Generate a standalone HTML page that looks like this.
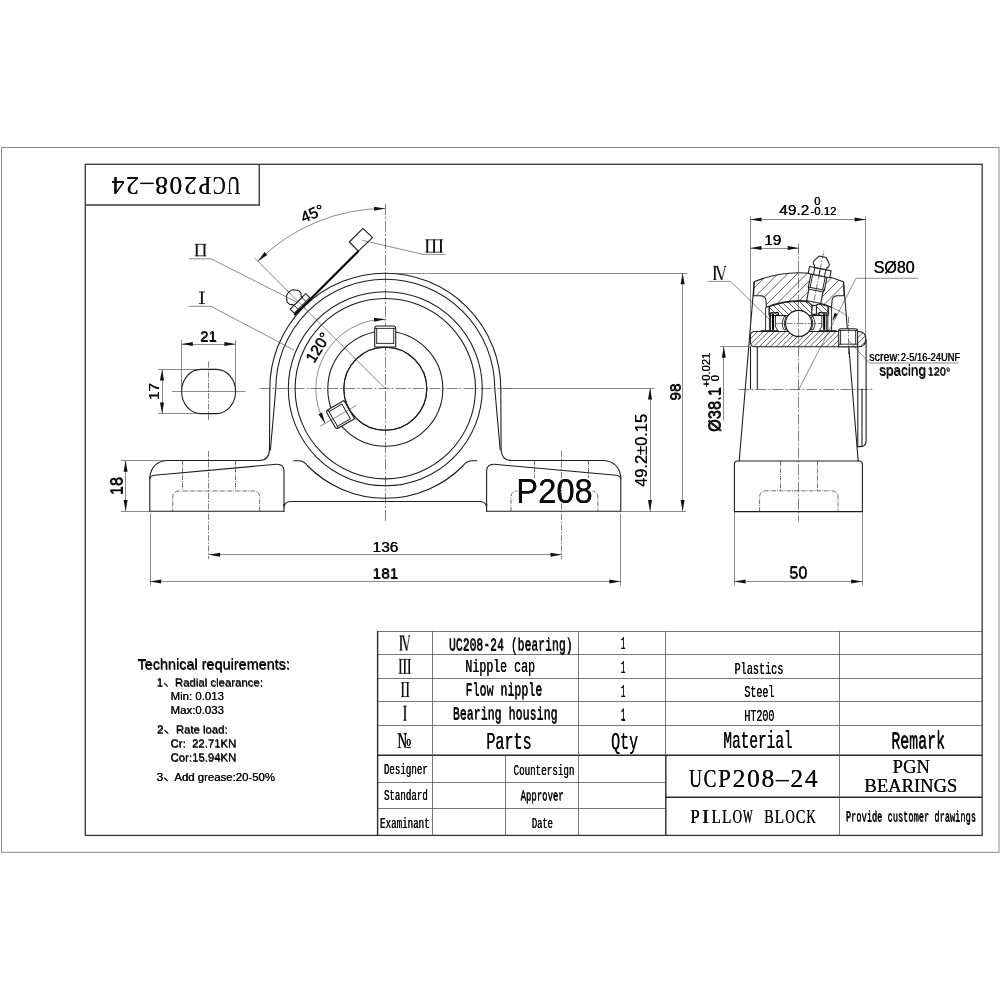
<!DOCTYPE html>
<html><head><meta charset="utf-8"><title>UCP208-24</title>
<style>
html,body{margin:0;padding:0;background:#fff;}
body{width:1000px;height:1000px;overflow:hidden;font-family:"Liberation Sans",sans-serif;}
svg{display:block;position:absolute;left:0;top:0;opacity:0.999;will-change:transform;}
.k{fill:none;stroke:#1c1c1c;stroke-width:1.08;stroke-linecap:round;stroke-linejoin:round;}
.kw{fill:#fff;stroke:#1c1c1c;stroke-width:1.08;stroke-linejoin:round;}
.kb{fill:none;stroke:#000;stroke-width:2.1;stroke-linecap:butt;}
.m{fill:none;stroke:#1a1a1a;stroke-width:0.9;stroke-linecap:round;stroke-linejoin:round;}
.t{fill:none;stroke:#333;stroke-width:0.57;}
.h{fill:none;stroke:#222;stroke-width:0.72;}
.c{fill:none;stroke:#333;stroke-width:0.62;stroke-dasharray:11 2 2 2;}
.cs{fill:none;stroke:#333;stroke-width:0.62;stroke-dasharray:6 1.5 1.5 1.5;}
.d{fill:none;stroke:#333;stroke-width:0.72;stroke-dasharray:4.4 1.1 0.9 1.1;}
.af{fill:#111;stroke:none;}
.fr1{fill:none;stroke:#8a8a8a;stroke-width:1;}
.fr2{fill:none;stroke:#3c3c3c;stroke-width:1.35;}
.g1{fill:none;stroke:#555;stroke-width:0.8;}
.g2{fill:none;stroke:#2a2a2a;stroke-width:1.4;}
text{fill:#0a0a0a;stroke:none;}
.fs{font-family:"Liberation Sans",sans-serif;}
.fr{font-family:"Liberation Serif",serif;}
.fm{font-family:"Liberation Mono",monospace;}

</style></head><body>
<svg width="1000" height="1000" viewBox="0 0 1000 1000">
<rect x="0" y="0" width="1000" height="1000" fill="#fff"/>

<rect class="fr1" x="1.5" y="147.5" width="997.5" height="704.8"/>
<rect class="fr2" x="85.3" y="164.3" width="896.9" height="671.1"/>
<path class="fr2" d="M85.3,205 H259.3 V164.3"/>
<g transform="rotate(180 175.9 185)">
<text class="fr" transform="translate(118.03 193.33) scale(0.693 1)" x="0" y="0" font-size="25.6" text-anchor="middle">U</text>
<text class="fr" transform="translate(118.17 193.47) scale(0.693 1)" x="0" y="0" font-size="25.6" text-anchor="middle">U</text>
<text class="fr" transform="translate(132.48 193.33) scale(0.750 1)" x="0" y="0" font-size="25.6" text-anchor="middle">C</text>
<text class="fr" transform="translate(132.62 193.47) scale(0.750 1)" x="0" y="0" font-size="25.6" text-anchor="middle">C</text>
<text class="fr" transform="translate(146.93 193.33) scale(0.899 1)" x="0" y="0" font-size="25.6" text-anchor="middle">P</text>
<text class="fr" transform="translate(147.07 193.47) scale(0.899 1)" x="0" y="0" font-size="25.6" text-anchor="middle">P</text>
<text class="fr" transform="translate(161.38 193.33) scale(1.000 1)" x="0" y="0" font-size="25.6" text-anchor="middle">2</text>
<text class="fr" transform="translate(161.52 193.47) scale(1.000 1)" x="0" y="0" font-size="25.6" text-anchor="middle">2</text>
<text class="fr" transform="translate(175.83 193.33) scale(1.000 1)" x="0" y="0" font-size="25.6" text-anchor="middle">0</text>
<text class="fr" transform="translate(175.97 193.47) scale(1.000 1)" x="0" y="0" font-size="25.6" text-anchor="middle">0</text>
<text class="fr" transform="translate(190.28 193.33) scale(1.000 1)" x="0" y="0" font-size="25.6" text-anchor="middle">8</text>
<text class="fr" transform="translate(190.42 193.47) scale(1.000 1)" x="0" y="0" font-size="25.6" text-anchor="middle">8</text>
<text class="fr" transform="translate(204.73 193.33) scale(1.000 1)" x="0" y="0" font-size="25.6" text-anchor="middle">–</text>
<text class="fr" transform="translate(204.87 193.47) scale(1.000 1)" x="0" y="0" font-size="25.6" text-anchor="middle">–</text>
<text class="fr" transform="translate(219.18 193.33) scale(1.000 1)" x="0" y="0" font-size="25.6" text-anchor="middle">2</text>
<text class="fr" transform="translate(219.32 193.47) scale(1.000 1)" x="0" y="0" font-size="25.6" text-anchor="middle">2</text>
<text class="fr" transform="translate(233.63 193.33) scale(1.000 1)" x="0" y="0" font-size="25.6" text-anchor="middle">4</text>
<text class="fr" transform="translate(233.77 193.47) scale(1.000 1)" x="0" y="0" font-size="25.6" text-anchor="middle">4</text>
</g>
<g id="front">
<line class="c" x1="259.50" y1="388.50" x2="511.50" y2="388.50"/>
<line class="c" x1="385.50" y1="203.80" x2="385.50" y2="521.00"/>
<circle class="k" cx="385.30" cy="388.70" r="41.50"/>
<circle class="k" cx="385.30" cy="388.70" r="57.50"/>
<circle class="k" cx="385.30" cy="388.70" r="90.20"/>
<circle class="k" cx="385.30" cy="388.70" r="97.00"/>
<path class="k" d="M385.30,273.20 A115.5,115.5 0 0 0 269.80,388.70 L269.50,449.5 Q269.00,460.50 259.30,460.50 L166.80,460.50 Q152.30,461.50 149.80,476.5 L149.80,511.30 L284.00,511.30" />
<path class="k" d="M385.30,279.20 A109.5,109.5 0 0 0 275.80,388.70 L270.40,450" />
<path class="k" d="M149.80,478.8 Q150.10,476 154.30,475.3 L276.30,464.3 Q283.70,464 284.00,471 L284.00,506.80 Q285.00,501.70 290.50,501.50" />
<line class="k" x1="284.00" y1="504.30" x2="284.00" y2="511.30"/>
<path class="k" d="M293.80,460.7 L299.30,460.7 Q304.30,461 307.74,466" />
<line class="d" x1="235.50" y1="460.50" x2="235.50" y2="490.50"/>
<line class="d" x1="182.50" y1="460.50" x2="182.50" y2="490.50"/>
<path class="d" d="M259.60,511.30 L259.60,497.5 Q259.60,491 253.10,491 L179.20,491 Q172.70,491 172.70,497.5 L172.70,511.30" />
<line class="cs" x1="208.50" y1="451.00" x2="208.50" y2="559.00"/>
<path class="k" d="M385.30,273.20 A115.5,115.5 0 0 1 500.80,388.70 L501.10,449.5 Q501.60,460.50 511.30,460.50 L603.80,460.50 Q618.30,461.50 620.80,476.5 L620.80,511.30 L486.60,511.30" />
<path class="k" d="M385.30,279.20 A109.5,109.5 0 0 1 494.80,388.70 L500.20,450" />
<path class="k" d="M620.80,478.8 Q620.50,476 616.30,475.3 L494.30,464.3 Q486.90,464 486.60,471 L486.60,506.80 Q485.60,501.70 480.10,501.50" />
<line class="k" x1="486.60" y1="504.30" x2="486.60" y2="511.30"/>
<path class="k" d="M476.80,460.7 L471.30,460.7 Q466.30,461 462.86,466" />
<line class="d" x1="534.50" y1="460.50" x2="534.50" y2="490.50"/>
<line class="d" x1="588.50" y1="460.50" x2="588.50" y2="490.50"/>
<path class="d" d="M511.00,511.30 L511.00,497.5 Q511.00,491 517.50,491 L591.40,491 Q597.90,491 597.90,497.5 L597.90,511.30" />
<rect x="517.5" y="478" width="75" height="27.5" fill="#fff"/>
<line class="cs" x1="561.50" y1="451.00" x2="561.50" y2="559.00"/>
<path class="k" d="M290.50,501.5 L480.10,501.5" />
<path class="k" d="M307.74,466 A109.5,109.5 0 0 0 462.86,466" />
<path class="kw" d="M374.7,347.0 L374.7,328.5 Q374.7,326.0 377.2,326.0 L393.2,326.0 Q395.7,326.0 395.7,328.5 L395.7,347.0 Z"/>
<path class="m" d="M376.7,328.4 V343.4 M393.7,328.4 V343.4 M375.2,328.4 H395.2 M376.7,343.4 H393.7"/>
<g transform="rotate(-120 385.3 388.7)">
<path class="kw" d="M374.7,347.0 L374.7,328.5 Q374.7,326.0 377.2,326.0 L393.2,326.0 Q395.7,326.0 395.7,328.5 L395.7,347.0 Z"/>
<path class="m" d="M376.7,328.4 V343.4 M393.7,328.4 V343.4 M375.2,328.4 H395.2 M376.7,343.4 H393.7"/>
</g>
<circle class="k" cx="385.30" cy="388.70" r="41.50"/>
<line class="t" x1="356.72" y1="405.20" x2="320.35" y2="426.20"/>
<path class="t" d="M385.30,319.20 A69.5,69.5 0 0 0 325.11,423.45" />
<path class="af" d="M385.30,319.20 L374.22,321.78 L374.01,317.79 Z"/>
<path class="af" d="M325.11,423.45 L318.40,414.26 L322.00,412.51 Z"/>
<g transform="rotate(-58.50 322.55 350.24)">
<text class="fs" x="322.34" y="350.03" font-size="15.5" text-anchor="middle" dominant-baseline="alphabetic">120°</text>
<text class="fs" x="322.76" y="350.45" font-size="15.5" text-anchor="middle" dominant-baseline="alphabetic">120°</text>
</g>
<line class="t" x1="385.30" y1="388.70" x2="254.49" y2="257.89"/>
<path class="t" d="M385.30,208.40 A180.3,180.3 0 0 0 257.81,261.21" />
<path class="af" d="M385.30,208.40 L374.16,210.69 L374.05,206.69 Z"/>
<path class="af" d="M257.81,261.21 L264.56,252.05 L267.31,254.95 Z"/>
<g transform="rotate(-22.60 314.40 218.37)">
<text class="fs" x="314.19" y="218.16" font-size="15.5" text-anchor="middle" >45°</text>
<text class="fs" x="314.61" y="218.58" font-size="15.5" text-anchor="middle" >45°</text>
</g>
<g transform="translate(385.3 388.7) rotate(-45)">
<rect class="kw" x="-11" y="-123.5" width="22" height="5.8"/>
<path class="m" d="M-5.5,-123.5 V-117.7 M5.5,-123.5 V-117.7"/>
<path class="kw" d="M-5.9,-123.5 L-6.1,-125.2 L-8,-127.2 L-8.2,-130.6 L-4.6,-135.3 Q-2.5,-136.5 0,-136.5 Q2.5,-136.5 4.6,-135.3 L8.2,-130.6 L8,-127.2 L6.1,-125.2 L5.9,-123.5 Z"/>
</g>
<line class="t" x1="306.10" y1="309.50" x2="286.31" y2="289.71"/>
<path class="kw" d="M362.9,228.4 L372.5,237.7 L358.4,251.1 L349.3,242 Z"/>
<path class="kb" d="M358.6,250.9 L309.5,300"/>
<path class="kb" d="M310,299.5 L294.3,315.2" style="stroke-width:1.7"/>
<path d="M196.75,243.90 V256.20 M204.45,243.90 V256.20" fill="none" stroke="#111" stroke-width="1.9"/>
<path d="M194.90,244.30 H206.30 M194.90,255.80 H206.30" fill="none" stroke="#111" stroke-width="0.8"/>
<path class="t" d="M188.8,258.8 H211 L297.5,302.5" />
<path d="M201.90,291.60 V304.00" fill="none" stroke="#111" stroke-width="1.9"/>
<path d="M198.80,292.00 H205.00 M198.80,303.60 H205.00" fill="none" stroke="#111" stroke-width="0.8"/>
<path class="t" d="M188.8,306.3 H211 L293.8,350" />
<path d="M427.25,239.40 V252.60 M434.10,239.40 V252.60 M440.95,239.40 V252.60" fill="none" stroke="#111" stroke-width="1.9"/>
<path d="M425.40,239.80 H442.80 M425.40,252.20 H442.80" fill="none" stroke="#111" stroke-width="0.8"/>
<path class="t" d="M445.6,254.4 H423 L362.4,240.3" />
<path class="k" d="M200.8,369.4 H216.4 A19.2,22.1 0 0 1 216.4,413.6 H200.8 A19.2,22.1 0 0 1 200.8,369.4 Z" />
<line class="t" x1="172.00" y1="391.50" x2="245.60" y2="391.50"/>
<line class="cs" x1="208.50" y1="361.60" x2="208.50" y2="421.00"/>
<line class="t" x1="181.50" y1="340.00" x2="181.50" y2="391.00"/>
<line class="t" x1="235.50" y1="340.00" x2="235.50" y2="391.00"/>
<line class="t" x1="181.60" y1="344.50" x2="235.60" y2="344.50"/>
<path class="af" d="M181.60,344.00 L192.80,342.00 L192.80,346.00 Z"/>
<path class="af" d="M235.60,344.00 L224.40,346.00 L224.40,342.00 Z"/>
<text class="fs" x="208.39" y="341.09" font-size="15.2" text-anchor="middle" >21</text>
<text class="fs" x="208.81" y="341.51" font-size="15.2" text-anchor="middle" >21</text>
<line class="t" x1="158.00" y1="369.50" x2="208.00" y2="369.50"/>
<line class="t" x1="158.00" y1="413.50" x2="208.00" y2="413.50"/>
<line class="t" x1="162.50" y1="369.40" x2="162.50" y2="413.60"/>
<path class="af" d="M162.00,369.40 L164.00,380.60 L160.00,380.60 Z"/>
<path class="af" d="M162.00,413.60 L160.00,402.40 L164.00,402.40 Z"/>
<g transform="rotate(-90.00 158.80 391.50)">
<text class="fs" x="158.59" y="391.29" font-size="15.2" text-anchor="middle" >17</text>
<text class="fs" x="159.01" y="391.71" font-size="15.2" text-anchor="middle" >17</text>
</g>
<line class="t" x1="121.00" y1="460.50" x2="166.00" y2="460.50"/>
<line class="t" x1="121.00" y1="511.50" x2="150.00" y2="511.50"/>
<line class="t" x1="125.50" y1="460.50" x2="125.50" y2="511.30"/>
<path class="af" d="M125.60,460.50 L127.60,471.70 L123.60,471.70 Z"/>
<path class="af" d="M125.60,511.30 L123.60,500.10 L127.60,500.10 Z"/>
<g transform="rotate(-90.00 122.30 486.00)">
<text class="fs" x="122.09" y="485.79" font-size="16.4" text-anchor="middle" >18</text>
<text class="fs" x="122.51" y="486.21" font-size="16.4" text-anchor="middle" >18</text>
</g>
<line class="t" x1="208.90" y1="554.50" x2="561.70" y2="554.50"/>
<path class="af" d="M208.90,554.80 L220.10,552.80 L220.10,556.80 Z"/>
<path class="af" d="M561.70,554.80 L550.50,556.80 L550.50,552.80 Z"/>
<text class="fs" x="385.29" y="551.59" font-size="15.5" text-anchor="middle" >136</text>
<text class="fs" x="385.71" y="552.01" font-size="15.5" text-anchor="middle" >136</text>
<line class="t" x1="150.50" y1="513.30" x2="150.50" y2="585.50"/>
<line class="t" x1="620.50" y1="513.30" x2="620.50" y2="585.50"/>
<line class="t" x1="150.00" y1="581.50" x2="620.60" y2="581.50"/>
<path class="af" d="M150.00,581.60 L161.20,579.60 L161.20,583.60 Z"/>
<path class="af" d="M620.60,581.60 L609.40,583.60 L609.40,579.60 Z"/>
<text class="fs" x="385.29" y="578.39" font-size="15.5" text-anchor="middle" >181</text>
<text class="fs" x="385.71" y="578.81" font-size="15.5" text-anchor="middle" >181</text>
<line class="t" x1="385.30" y1="273.50" x2="687.00" y2="273.50"/>
<line class="t" x1="505.00" y1="388.50" x2="654.50" y2="388.50"/>
<line class="t" x1="620.60" y1="511.50" x2="686.00" y2="511.50"/>
<line class="t" x1="650.50" y1="388.30" x2="650.50" y2="511.30"/>
<path class="af" d="M650.00,388.30 L652.00,399.50 L648.00,399.50 Z"/>
<path class="af" d="M650.00,511.30 L648.00,500.10 L652.00,500.10 Z"/>
<g transform="rotate(-90.00 647.00 450.40)">
<text class="fs" x="646.79" y="450.19" font-size="16.4" text-anchor="middle" textLength="73.00" lengthAdjust="spacingAndGlyphs" >49.2±0.15</text>
<text class="fs" x="647.21" y="450.61" font-size="16.4" text-anchor="middle" textLength="73.00" lengthAdjust="spacingAndGlyphs" >49.2±0.15</text>
</g>
<line class="t" x1="682.50" y1="273.00" x2="682.50" y2="511.30"/>
<path class="af" d="M682.60,273.00 L684.60,284.20 L680.60,284.20 Z"/>
<path class="af" d="M682.60,511.30 L680.60,500.10 L684.60,500.10 Z"/>
<g transform="rotate(-90.00 680.30 392.00)">
<text class="fs" x="680.09" y="391.79" font-size="15.5" text-anchor="middle" >98</text>
<text class="fs" x="680.51" y="392.21" font-size="15.5" text-anchor="middle" >98</text>
</g>
<text class="fs" x="554.43" y="503.33" font-size="34.6" text-anchor="middle" textLength="76.60" lengthAdjust="spacingAndGlyphs" >P208</text>
<text class="fs" x="554.57" y="503.47" font-size="34.6" text-anchor="middle" textLength="76.60" lengthAdjust="spacingAndGlyphs" >P208</text>
</g>
<g id="table">
<line class="g1" x1="377.60" y1="631.50" x2="982.20" y2="631.50"/>
<line class="g1" x1="377.60" y1="654.50" x2="982.20" y2="654.50"/>
<line class="g1" x1="377.60" y1="678.50" x2="982.20" y2="678.50"/>
<line class="g1" x1="377.60" y1="701.50" x2="982.20" y2="701.50"/>
<line class="g1" x1="377.60" y1="725.50" x2="982.20" y2="725.50"/>
<line class="g2" x1="377.60" y1="755.30" x2="982.20" y2="755.30"/>
<line class="g1" x1="377.60" y1="782.50" x2="665.80" y2="782.50"/>
<line class="g1" x1="377.60" y1="808.50" x2="665.80" y2="808.50"/>
<line class="g2" x1="665.80" y1="797.20" x2="982.20" y2="797.20"/>
<line class="g2" x1="377.60" y1="631.00" x2="377.60" y2="835.40"/>
<line class="g1" x1="432.50" y1="631.00" x2="432.50" y2="835.40"/>
<line class="g1" x1="578.50" y1="631.00" x2="578.50" y2="835.40"/>
<line class="g1" x1="505.50" y1="755.30" x2="505.50" y2="835.40"/>
<line class="g1" x1="665.50" y1="631.00" x2="665.50" y2="755.30"/>
<line class="g2" x1="665.80" y1="755.30" x2="665.80" y2="835.40"/>
<line class="g1" x1="839.50" y1="631.00" x2="839.50" y2="755.30"/>
<line class="g1" x1="839.50" y1="755.30" x2="839.50" y2="835.40"/>
<path d="M401.00,635.60 V650.40 M403.00,635.60 L406.80,650.40" fill="none" stroke="#111" stroke-width="1.6"/>
<path d="M406.80,650.40 L409.40,635.60 M399.40,635.98 H404.60 M407.80,635.98 H410.40 M399.40,650.02 H402.60" fill="none" stroke="#111" stroke-width="0.75"/>
<path d="M400.40,659.00 V673.80 M404.80,659.00 V673.80 M409.20,659.00 V673.80" fill="none" stroke="#111" stroke-width="1.6"/>
<path d="M398.70,659.38 H410.90 M398.70,673.42 H410.90" fill="none" stroke="#111" stroke-width="0.75"/>
<path d="M402.70,682.20 V697.00 M407.70,682.20 V697.00" fill="none" stroke="#111" stroke-width="1.6"/>
<path d="M401.00,682.58 H409.40 M401.00,696.62 H409.40" fill="none" stroke="#111" stroke-width="0.75"/>
<path d="M405.00,705.80 V720.60" fill="none" stroke="#111" stroke-width="1.6"/>
<path d="M403.00,706.17 H407.00 M403.00,720.23 H407.00" fill="none" stroke="#111" stroke-width="0.75"/>
<text class="fr" x="404.12" y="747.62" font-size="22.5" text-anchor="middle" textLength="14.00" lengthAdjust="spacingAndGlyphs" >№</text>
<text class="fr" x="404.28" y="747.78" font-size="22.5" text-anchor="middle" textLength="14.00" lengthAdjust="spacingAndGlyphs" >№</text>
<text class="fm" x="510.65" y="650.45" font-size="19" text-anchor="middle" textLength="123.60" lengthAdjust="spacingAndGlyphs" >UC208-24 (bearing)</text>
<text class="fm" x="510.95" y="650.75" font-size="19" text-anchor="middle" textLength="123.60" lengthAdjust="spacingAndGlyphs" >UC208-24 (bearing)</text>
<text class="fm" x="500.05" y="671.55" font-size="19" text-anchor="middle" textLength="69.60" lengthAdjust="spacingAndGlyphs" >Nipple cap</text>
<text class="fm" x="500.35" y="671.85" font-size="19" text-anchor="middle" textLength="69.60" lengthAdjust="spacingAndGlyphs" >Nipple cap</text>
<text class="fm" x="503.85" y="695.25" font-size="19" text-anchor="middle" textLength="76.80" lengthAdjust="spacingAndGlyphs" >Flow nipple</text>
<text class="fm" x="504.15" y="695.55" font-size="19" text-anchor="middle" textLength="76.80" lengthAdjust="spacingAndGlyphs" >Flow nipple</text>
<text class="fm" x="505.05" y="719.25" font-size="19" text-anchor="middle" textLength="104.80" lengthAdjust="spacingAndGlyphs" >Bearing housing</text>
<text class="fm" x="505.35" y="719.55" font-size="19" text-anchor="middle" textLength="104.80" lengthAdjust="spacingAndGlyphs" >Bearing housing</text>
<text class="fm" x="508.85" y="748.55" font-size="23" text-anchor="middle" textLength="45.20" lengthAdjust="spacingAndGlyphs" >Parts</text>
<text class="fm" x="509.15" y="748.85" font-size="23" text-anchor="middle" textLength="45.20" lengthAdjust="spacingAndGlyphs" >Parts</text>
<text class="fm" x="623.05" y="649.15" font-size="19" text-anchor="middle" textLength="4.60" lengthAdjust="spacingAndGlyphs" >1</text>
<text class="fm" x="623.35" y="649.45" font-size="19" text-anchor="middle" textLength="4.60" lengthAdjust="spacingAndGlyphs" >1</text>
<text class="fm" x="623.05" y="672.75" font-size="19" text-anchor="middle" textLength="4.60" lengthAdjust="spacingAndGlyphs" >1</text>
<text class="fm" x="623.35" y="673.05" font-size="19" text-anchor="middle" textLength="4.60" lengthAdjust="spacingAndGlyphs" >1</text>
<text class="fm" x="623.05" y="696.55" font-size="19" text-anchor="middle" textLength="4.60" lengthAdjust="spacingAndGlyphs" >1</text>
<text class="fm" x="623.35" y="696.85" font-size="19" text-anchor="middle" textLength="4.60" lengthAdjust="spacingAndGlyphs" >1</text>
<text class="fm" x="623.05" y="720.35" font-size="19" text-anchor="middle" textLength="4.60" lengthAdjust="spacingAndGlyphs" >1</text>
<text class="fm" x="623.35" y="720.65" font-size="19" text-anchor="middle" textLength="4.60" lengthAdjust="spacingAndGlyphs" >1</text>
<text class="fm" x="624.55" y="748.55" font-size="23" text-anchor="middle" textLength="27.00" lengthAdjust="spacingAndGlyphs" >Qty</text>
<text class="fm" x="624.85" y="748.85" font-size="23" text-anchor="middle" textLength="27.00" lengthAdjust="spacingAndGlyphs" >Qty</text>
<text class="fm" x="758.85" y="673.65" font-size="17" text-anchor="middle" textLength="48.80" lengthAdjust="spacingAndGlyphs" >Plastics</text>
<text class="fm" x="759.15" y="673.95" font-size="17" text-anchor="middle" textLength="48.80" lengthAdjust="spacingAndGlyphs" >Plastics</text>
<text class="fm" x="759.25" y="697.15" font-size="17" text-anchor="middle" textLength="30.20" lengthAdjust="spacingAndGlyphs" >Steel</text>
<text class="fm" x="759.55" y="697.45" font-size="17" text-anchor="middle" textLength="30.20" lengthAdjust="spacingAndGlyphs" >Steel</text>
<text class="fm" x="759.25" y="720.85" font-size="17" text-anchor="middle" textLength="30.20" lengthAdjust="spacingAndGlyphs" >HT200</text>
<text class="fm" x="759.55" y="721.15" font-size="17" text-anchor="middle" textLength="30.20" lengthAdjust="spacingAndGlyphs" >HT200</text>
<text class="fm" x="757.85" y="748.15" font-size="24" text-anchor="middle" textLength="69.20" lengthAdjust="spacingAndGlyphs" >Material</text>
<text class="fm" x="758.15" y="748.45" font-size="24" text-anchor="middle" textLength="69.20" lengthAdjust="spacingAndGlyphs" >Material</text>
<text class="fm" x="918.05" y="748.45" font-size="24" text-anchor="middle" textLength="53.80" lengthAdjust="spacingAndGlyphs" >Remark</text>
<text class="fm" x="918.35" y="748.75" font-size="24" text-anchor="middle" textLength="53.80" lengthAdjust="spacingAndGlyphs" >Remark</text>
<text class="fm" x="405.75" y="774.05" font-size="14.5" text-anchor="middle" textLength="43.80" lengthAdjust="spacingAndGlyphs" >Designer</text>
<text class="fm" x="406.05" y="774.35" font-size="14.5" text-anchor="middle" textLength="43.80" lengthAdjust="spacingAndGlyphs" >Designer</text>
<text class="fm" x="405.75" y="800.15" font-size="14.5" text-anchor="middle" textLength="43.80" lengthAdjust="spacingAndGlyphs" >Standard</text>
<text class="fm" x="406.05" y="800.45" font-size="14.5" text-anchor="middle" textLength="43.80" lengthAdjust="spacingAndGlyphs" >Standard</text>
<text class="fm" x="404.75" y="827.85" font-size="14.5" text-anchor="middle" textLength="49.80" lengthAdjust="spacingAndGlyphs" >Examinant</text>
<text class="fm" x="405.05" y="828.15" font-size="14.5" text-anchor="middle" textLength="49.80" lengthAdjust="spacingAndGlyphs" >Examinant</text>
<text class="fm" x="543.85" y="774.65" font-size="14.5" text-anchor="middle" textLength="60.80" lengthAdjust="spacingAndGlyphs" >Countersign</text>
<text class="fm" x="544.15" y="774.95" font-size="14.5" text-anchor="middle" textLength="60.80" lengthAdjust="spacingAndGlyphs" >Countersign</text>
<text class="fm" x="542.05" y="800.45" font-size="14.5" text-anchor="middle" textLength="43.20" lengthAdjust="spacingAndGlyphs" >Approver</text>
<text class="fm" x="542.35" y="800.75" font-size="14.5" text-anchor="middle" textLength="43.20" lengthAdjust="spacingAndGlyphs" >Approver</text>
<text class="fm" x="542.25" y="828.15" font-size="14.5" text-anchor="middle" textLength="21.20" lengthAdjust="spacingAndGlyphs" >Date</text>
<text class="fm" x="542.55" y="828.45" font-size="14.5" text-anchor="middle" textLength="21.20" lengthAdjust="spacingAndGlyphs" >Date</text>
<text class="fr" transform="translate(695.53 787.13) scale(0.693 1)" x="0" y="0" font-size="25.6" text-anchor="middle">U</text>
<text class="fr" transform="translate(695.67 787.27) scale(0.693 1)" x="0" y="0" font-size="25.6" text-anchor="middle">U</text>
<text class="fr" transform="translate(709.98 787.13) scale(0.750 1)" x="0" y="0" font-size="25.6" text-anchor="middle">C</text>
<text class="fr" transform="translate(710.12 787.27) scale(0.750 1)" x="0" y="0" font-size="25.6" text-anchor="middle">C</text>
<text class="fr" transform="translate(724.43 787.13) scale(0.899 1)" x="0" y="0" font-size="25.6" text-anchor="middle">P</text>
<text class="fr" transform="translate(724.57 787.27) scale(0.899 1)" x="0" y="0" font-size="25.6" text-anchor="middle">P</text>
<text class="fr" transform="translate(738.88 787.13) scale(1.000 1)" x="0" y="0" font-size="25.6" text-anchor="middle">2</text>
<text class="fr" transform="translate(739.02 787.27) scale(1.000 1)" x="0" y="0" font-size="25.6" text-anchor="middle">2</text>
<text class="fr" transform="translate(753.33 787.13) scale(1.000 1)" x="0" y="0" font-size="25.6" text-anchor="middle">0</text>
<text class="fr" transform="translate(753.47 787.27) scale(1.000 1)" x="0" y="0" font-size="25.6" text-anchor="middle">0</text>
<text class="fr" transform="translate(767.78 787.13) scale(1.000 1)" x="0" y="0" font-size="25.6" text-anchor="middle">8</text>
<text class="fr" transform="translate(767.92 787.27) scale(1.000 1)" x="0" y="0" font-size="25.6" text-anchor="middle">8</text>
<text class="fr" transform="translate(782.23 787.13) scale(1.000 1)" x="0" y="0" font-size="25.6" text-anchor="middle">–</text>
<text class="fr" transform="translate(782.37 787.27) scale(1.000 1)" x="0" y="0" font-size="25.6" text-anchor="middle">–</text>
<text class="fr" transform="translate(796.68 787.13) scale(1.000 1)" x="0" y="0" font-size="25.6" text-anchor="middle">2</text>
<text class="fr" transform="translate(796.82 787.27) scale(1.000 1)" x="0" y="0" font-size="25.6" text-anchor="middle">2</text>
<text class="fr" transform="translate(811.13 787.13) scale(1.000 1)" x="0" y="0" font-size="25.6" text-anchor="middle">4</text>
<text class="fr" transform="translate(811.27 787.27) scale(1.000 1)" x="0" y="0" font-size="25.6" text-anchor="middle">4</text>
<text class="fr" transform="translate(695.00 822.83) scale(0.854 1)" x="0" y="0" font-size="19.8" text-anchor="middle">P</text>
<text class="fr" transform="translate(695.15 822.97) scale(0.854 1)" x="0" y="0" font-size="19.8" text-anchor="middle">P</text>
<text class="fr" transform="translate(705.55 822.83) scale(1.120 1)" x="0" y="0" font-size="19.8" text-anchor="middle">I</text>
<text class="fr" transform="translate(705.70 822.97) scale(1.120 1)" x="0" y="0" font-size="19.8" text-anchor="middle">I</text>
<text class="fr" transform="translate(716.11 822.83) scale(0.777 1)" x="0" y="0" font-size="19.8" text-anchor="middle">L</text>
<text class="fr" transform="translate(716.25 822.97) scale(0.777 1)" x="0" y="0" font-size="19.8" text-anchor="middle">L</text>
<text class="fr" transform="translate(726.65 822.83) scale(0.777 1)" x="0" y="0" font-size="19.8" text-anchor="middle">L</text>
<text class="fr" transform="translate(726.80 822.97) scale(0.777 1)" x="0" y="0" font-size="19.8" text-anchor="middle">L</text>
<text class="fr" transform="translate(737.21 822.83) scale(0.658 1)" x="0" y="0" font-size="19.8" text-anchor="middle">O</text>
<text class="fr" transform="translate(737.35 822.97) scale(0.658 1)" x="0" y="0" font-size="19.8" text-anchor="middle">O</text>
<text class="fr" transform="translate(747.75 822.83) scale(0.503 1)" x="0" y="0" font-size="19.8" text-anchor="middle">W</text>
<text class="fr" transform="translate(747.90 822.97) scale(0.503 1)" x="0" y="0" font-size="19.8" text-anchor="middle">W</text>
<text class="fr" transform="translate(768.86 822.83) scale(0.712 1)" x="0" y="0" font-size="19.8" text-anchor="middle">B</text>
<text class="fr" transform="translate(769.00 822.97) scale(0.712 1)" x="0" y="0" font-size="19.8" text-anchor="middle">B</text>
<text class="fr" transform="translate(779.40 822.83) scale(0.777 1)" x="0" y="0" font-size="19.8" text-anchor="middle">L</text>
<text class="fr" transform="translate(779.55 822.97) scale(0.777 1)" x="0" y="0" font-size="19.8" text-anchor="middle">L</text>
<text class="fr" transform="translate(789.96 822.83) scale(0.658 1)" x="0" y="0" font-size="19.8" text-anchor="middle">O</text>
<text class="fr" transform="translate(790.10 822.97) scale(0.658 1)" x="0" y="0" font-size="19.8" text-anchor="middle">O</text>
<text class="fr" transform="translate(800.50 822.83) scale(0.712 1)" x="0" y="0" font-size="19.8" text-anchor="middle">C</text>
<text class="fr" transform="translate(800.65 822.97) scale(0.712 1)" x="0" y="0" font-size="19.8" text-anchor="middle">C</text>
<text class="fr" transform="translate(811.05 822.83) scale(0.658 1)" x="0" y="0" font-size="19.8" text-anchor="middle">K</text>
<text class="fr" transform="translate(811.20 822.97) scale(0.658 1)" x="0" y="0" font-size="19.8" text-anchor="middle">K</text>
<text class="fr" x="911.22" y="773.22" font-size="18.6" text-anchor="middle" >PGN</text>
<text class="fr" x="911.38" y="773.38" font-size="18.6" text-anchor="middle" >PGN</text>
<text class="fr" x="910.82" y="792.12" font-size="18.6" text-anchor="middle" >BEARINGS</text>
<text class="fr" x="910.98" y="792.28" font-size="18.6" text-anchor="middle" >BEARINGS</text>
<text class="fm" x="910.85" y="821.45" font-size="14" text-anchor="middle" textLength="130.00" lengthAdjust="spacingAndGlyphs" >Provide customer drawings</text>
<text class="fm" x="911.15" y="821.75" font-size="14" text-anchor="middle" textLength="130.00" lengthAdjust="spacingAndGlyphs" >Provide customer drawings</text>
</g>
<g id="tech">
<text class="fs" x="137.40" y="669.20" font-size="14.6" text-anchor="start" textLength="152.40" lengthAdjust="spacingAndGlyphs" >Technical requirements:</text>
<text class="fs" x="137.80" y="669.60" font-size="14.6" text-anchor="start" textLength="152.40" lengthAdjust="spacingAndGlyphs" >Technical requirements:</text>
<text class="fs" x="156.40" y="686.20" font-size="11.8" text-anchor="start" >1</text>
<text class="fs" x="156.80" y="686.60" font-size="11.8" text-anchor="start" >1</text>
<path d="M164.00,683.00 Q166.60,684.00 167.60,686.50 Q165.20,685.20 164.00,683.00 Z" fill="#0a0a0a" stroke="#0a0a0a" stroke-width="0.8"/>
<text class="fs" x="174.80" y="686.20" font-size="11.8" text-anchor="start" textLength="88.00" lengthAdjust="spacingAndGlyphs" >Radial clearance:</text>
<text class="fs" x="175.20" y="686.60" font-size="11.8" text-anchor="start" textLength="88.00" lengthAdjust="spacingAndGlyphs" >Radial clearance:</text>
<text class="fs" x="170.40" y="699.80" font-size="11.8" text-anchor="start" textLength="53.40" lengthAdjust="spacingAndGlyphs" >Min: 0.013</text>
<text class="fs" x="170.80" y="700.20" font-size="11.8" text-anchor="start" textLength="53.40" lengthAdjust="spacingAndGlyphs" >Min: 0.013</text>
<text class="fs" x="170.40" y="713.80" font-size="11.8" text-anchor="start" textLength="53.40" lengthAdjust="spacingAndGlyphs" >Max:0.033</text>
<text class="fs" x="170.80" y="714.20" font-size="11.8" text-anchor="start" textLength="53.40" lengthAdjust="spacingAndGlyphs" >Max:0.033</text>
<text class="fs" x="156.80" y="733.40" font-size="11.8" text-anchor="start" >2</text>
<text class="fs" x="157.20" y="733.80" font-size="11.8" text-anchor="start" >2</text>
<path d="M164.60,730.20 Q167.20,731.20 168.20,733.70 Q165.80,732.40 164.60,730.20 Z" fill="#0a0a0a" stroke="#0a0a0a" stroke-width="0.8"/>
<text class="fs" x="175.80" y="733.40" font-size="11.8" text-anchor="start" textLength="51.60" lengthAdjust="spacingAndGlyphs" >Rate load:</text>
<text class="fs" x="176.20" y="733.80" font-size="11.8" text-anchor="start" textLength="51.60" lengthAdjust="spacingAndGlyphs" >Rate load:</text>
<text class="fs" x="170.40" y="747.40" font-size="11.8" text-anchor="start" textLength="65.80" lengthAdjust="spacingAndGlyphs" xml:space="preserve">Cr:  22.71KN</text>
<text class="fs" x="170.80" y="747.80" font-size="11.8" text-anchor="start" textLength="65.80" lengthAdjust="spacingAndGlyphs" xml:space="preserve">Cr:  22.71KN</text>
<text class="fs" x="170.40" y="761.20" font-size="11.8" text-anchor="start" textLength="65.80" lengthAdjust="spacingAndGlyphs" >Cor:15.94KN</text>
<text class="fs" x="170.80" y="761.60" font-size="11.8" text-anchor="start" textLength="65.80" lengthAdjust="spacingAndGlyphs" >Cor:15.94KN</text>
<text class="fs" x="156.40" y="780.80" font-size="11.8" text-anchor="start" >3</text>
<text class="fs" x="156.80" y="781.20" font-size="11.8" text-anchor="start" >3</text>
<path d="M164.00,777.60 Q166.60,778.60 167.60,781.10 Q165.20,779.80 164.00,777.60 Z" fill="#0a0a0a" stroke="#0a0a0a" stroke-width="0.8"/>
<text class="fs" x="174.20" y="780.80" font-size="11.8" text-anchor="start" textLength="100.60" lengthAdjust="spacingAndGlyphs" >Add grease:20-50%</text>
<text class="fs" x="174.60" y="781.20" font-size="11.8" text-anchor="start" textLength="100.60" lengthAdjust="spacingAndGlyphs" >Add grease:20-50%</text>
</g>
<g id="side">
<defs>
<clipPath id="cpH"><path d="M754.2,281.8 A114,114 0 0 1 843.5,281.8 L844.2,295.6 L837,295.8 Q832.2,296.4 832,301 L831.6,307.2 A87.5,87.5 0 0 0 766.4,307.2 L766,301 Q765.8,296.4 761,295.8 L753.6,295.6 Z"/></clipPath>
<clipPath id="cpO"><path d="M769.4,306.5 A87.5,87.5 0 0 1 828.6,306.5 L828.6,315.4 L808.85,315.4 A13.0,13.0 0 0 0 788.35,315.4 L769.4,315.4 Z"/></clipPath>
<clipPath id="cpI"><path d="M755,331.5 L788.43,331.5 A13.0,13.0 0 0 0 808.77,331.5 L858,331.5 Q865.8,331.5 865.8,339.15 Q865.8,346.8 858,346.8 L755,346.8 Q750.4,346.8 750.4,342.3 L750.4,336.0 Q750.4,331.5 755,331.5 Z"/></clipPath>
</defs>
<path class="k" d="M734.4,511.6 L734.4,464 Q734.4,461 737.4,461 L859.4,461 Q862.4,461 862.4,464 L862.4,511.6 Z" />
<line class="k" x1="754.20" y1="281.80" x2="739.20" y2="461.00"/>
<line class="k" x1="843.50" y1="281.80" x2="858.20" y2="461.00"/>
<line class="d" x1="780.50" y1="461.00" x2="780.50" y2="490.80"/>
<line class="d" x1="817.50" y1="461.00" x2="817.50" y2="490.80"/>
<path class="d" d="M759.6,511.6 L759.6,497 Q759.6,490.8 766.6,490.8 L831,490.8 Q838,490.8 838,497 L838,511.6" />
<g clip-path="url(#cpH)">
<path class="h" d="M713.00,310.00 L753.00,270.00 M722.60,310.00 L762.60,270.00 M732.20,310.00 L772.20,270.00 M741.80,310.00 L781.80,270.00 M751.40,310.00 L791.40,270.00 M761.00,310.00 L801.00,270.00 M770.60,310.00 L810.60,270.00 M780.20,310.00 L820.20,270.00 M789.80,310.00 L829.80,270.00 M799.40,310.00 L839.40,270.00 M809.00,310.00 L849.00,270.00 M818.60,310.00 L858.60,270.00 M828.20,310.00 L868.20,270.00 M837.80,310.00 L877.80,270.00 M847.40,310.00 L887.40,270.00 M857.00,310.00 L897.00,270.00 M866.60,310.00 L906.60,270.00 M876.20,310.00 L916.20,270.00 M885.80,310.00 L925.80,270.00"/>
</g>
<g clip-path="url(#cpO)">
<path class="h" d="M748.00,298.00 L766.00,316.00 M754.00,298.00 L772.00,316.00 M760.00,298.00 L778.00,316.00 M766.00,298.00 L784.00,316.00 M772.00,298.00 L790.00,316.00 M778.00,298.00 L796.00,316.00 M784.00,298.00 L802.00,316.00 M790.00,298.00 L808.00,316.00 M796.00,298.00 L814.00,316.00 M802.00,298.00 L820.00,316.00 M808.00,298.00 L826.00,316.00 M814.00,298.00 L832.00,316.00 M820.00,298.00 L838.00,316.00 M826.00,298.00 L844.00,316.00 M832.00,298.00 L850.00,316.00 M838.00,298.00 L856.00,316.00 M844.00,298.00 L862.00,316.00"/>
</g>
<g clip-path="url(#cpI)">
<path class="h" d="M730.00,348.00 L748.00,330.00 M735.60,348.00 L753.60,330.00 M741.20,348.00 L759.20,330.00 M746.80,348.00 L764.80,330.00 M752.40,348.00 L770.40,330.00 M758.00,348.00 L776.00,330.00 M763.60,348.00 L781.60,330.00 M769.20,348.00 L787.20,330.00 M774.80,348.00 L792.80,330.00 M780.40,348.00 L798.40,330.00 M786.00,348.00 L804.00,330.00 M791.60,348.00 L809.60,330.00 M797.20,348.00 L815.20,330.00 M802.80,348.00 L820.80,330.00 M808.40,348.00 L826.40,330.00 M814.00,348.00 L832.00,330.00 M819.60,348.00 L837.60,330.00 M825.20,348.00 L843.20,330.00 M830.80,348.00 L848.80,330.00 M836.40,348.00 L854.40,330.00 M842.00,348.00 L860.00,330.00 M847.60,348.00 L865.60,330.00 M853.20,348.00 L871.20,330.00 M858.80,348.00 L876.80,330.00 M864.40,348.00 L882.40,330.00 M870.00,348.00 L888.00,330.00 M875.60,348.00 L893.60,330.00 M881.20,348.00 L899.20,330.00"/>
</g>
<path class="k" d="M754.2,281.8 A114,114 0 0 1 843.5,281.8 L844.2,295.6 L837,295.8 Q832.2,296.4 832,301 L831.6,307.2 A87.5,87.5 0 0 0 766.4,307.2 L766,301 Q765.8,296.4 761,295.8 L753.6,295.6 Z" />
<path class="m" d="M769.4,306.5 A87.5,87.5 0 0 1 828.6,306.5 L828.6,315.4 L808.85,315.4 A13.0,13.0 0 0 0 788.35,315.4 L769.4,315.4 Z" />
<path class="k" d="M755,331.5 L788.43,331.5 A13.0,13.0 0 0 0 808.77,331.5 L858,331.5 Q865.8,331.5 865.8,339.15 Q865.8,346.8 858,346.8 L755,346.8 Q750.4,346.8 750.4,342.3 L750.4,336.0 Q750.4,331.5 755,331.5 Z" />
<path class="t" d="M831.6,307.2 A87.5,87.5 0 0 1 847.5,316.2" />
<circle class="kw" cx="798.6" cy="323.4" r="13.0"/>
<line class="cs" x1="776.00" y1="323.50" x2="822.00" y2="323.50"/>
<path class="m" d="M784.40,316.4 Q780.20,323.4 784.00,329.8 L786.00,329.8 M784.40,316.4 L786.20,317.2" />
<path class="m" d="M786.10,317.2 Q782.40,323.4 786.00,329.8" />
<path class="m" d="M786.60,315.6 L777.60,315.6" />
<path d="M773.00,313.8 L773.00,329.8" stroke="#000" stroke-width="2.1" fill="none"/>
<path class="m" d="M770.50,313.4 L770.50,330.6" />
<path class="m" d="M775.40,315.6 L775.40,327.2 L777.00,328.4 L777.00,330.4" />
<path d="M770.40,313.0 L776.20,312.6 Q778.40,312 778.40,313.8 L778.00,315.2 L775.40,315.6" stroke="#000" stroke-width="1.3" fill="none"/>
<path class="m" d="M778.10,330.6 L761.10,330.6" />
<path class="m" d="M769.40,307.4 L769.40,330.4" />
<path class="m" d="M765.60,307.6 L765.60,330.4" />
<path class="m" d="M812.80,316.4 Q817.00,323.4 813.20,329.8 L811.20,329.8 M812.80,316.4 L811.00,317.2" />
<path class="m" d="M811.10,317.2 Q814.80,323.4 811.20,329.8" />
<path class="m" d="M810.60,315.6 L819.60,315.6" />
<path d="M824.20,313.8 L824.20,329.8" stroke="#000" stroke-width="2.1" fill="none"/>
<path class="m" d="M826.70,313.4 L826.70,330.6" />
<path class="m" d="M821.80,315.6 L821.80,327.2 L820.20,328.4 L820.20,330.4" />
<path d="M826.80,313.0 L821.00,312.6 Q818.80,312 818.80,313.8 L819.20,315.2 L821.80,315.6" stroke="#000" stroke-width="1.3" fill="none"/>
<path class="m" d="M819.10,330.6 L836.10,330.6" />
<path class="m" d="M827.80,307.4 L827.80,330.4" />
<path class="m" d="M831.60,307.6 L831.60,330.4" />
<line class="c" x1="798.50" y1="243.50" x2="798.50" y2="521.50"/>
<line class="c" x1="738.40" y1="389.50" x2="873.00" y2="389.50"/>
<path class="kw" d="M838.7,346.7 L838.7,331 Q838.7,328.7 841,328.7 L855.3,328.7 Q857.6,328.7 857.6,331 L857.6,346.7 Z"/>
<path class="m" d="M840.6,330.4 V344.2 M855.7,330.4 V344.2 M839.2,330.4 H857.2 M839.2,344.2 H857.2" />
<line class="cs" x1="848.50" y1="317.00" x2="848.50" y2="356.60"/>
<line class="k" x1="750.50" y1="346.80" x2="750.50" y2="389.00"/>
<line class="k" x1="757.30" y1="346.80" x2="757.30" y2="389.00"/>
<line class="k" x1="857.80" y1="346.80" x2="857.80" y2="446.60"/>
<line class="k" x1="862.00" y1="389.00" x2="862.00" y2="445.50"/>
<path class="k" d="M866.1,340 L866.1,441 Q866.1,446.6 860.5,446.6 L857.4,446.6" />
<path class="kw" d="M811.8,304.8 L811.8,314.4 L816.4,314.4 L816.4,305.2 Z" stroke-width="0.9"/>
<g transform="translate(813.2 304.6) rotate(11.2)">
<path class="kw" d="M-7.2,-2.6 L-7.2,-14.3 L-8.2,-16.3 L-8.2,-29.5 L8.2,-29.5 L8.2,-16.3 L7.2,-14.3 L7.2,-2.6 L2.4,0.2 Q0,1.4 -2.4,0.2 Z"/>
<path class="m" d="M-7.2,-2.6 L7.2,-2.6 M-7.2,-14.3 L7.2,-14.3 M-8.2,-16.3 L8.2,-16.3 M-6.4,-16.3 L-6.4,-29.5 M6.4,-16.3 L6.4,-29.5" />
<rect class="kw" x="-11" y="-36.7" width="22" height="7.2"/>
<path class="m" d="M-5.6,-36.7 V-29.5 M5.6,-36.7 V-29.5 M0,-36.7 V-29.5" />
<path class="kw" d="M-6.2,-36.7 L-6.2,-38.6 L-7.8,-40.2 Q-8.9,-42 -7.4,-43.6 L-3.6,-48.8 L3.6,-48.8 L7.4,-43.6 Q8.9,-42 7.8,-40.2 L6.2,-38.6 L6.2,-36.7 Z"/>
<line class="cs" x1="0" y1="6" x2="0" y2="-55"/>
</g>
<line class="t" x1="750.50" y1="216.40" x2="750.50" y2="331.00"/>
<line class="t" x1="865.50" y1="216.40" x2="865.50" y2="340.00"/>
<line class="t" x1="750.30" y1="219.50" x2="865.80" y2="219.50"/>
<path class="af" d="M750.30,219.50 L761.50,217.50 L761.50,221.50 Z"/>
<path class="af" d="M865.80,219.50 L854.60,221.50 L854.60,217.50 Z"/>
<text class="fs" x="794.09" y="214.89" font-size="15.5" text-anchor="middle" textLength="30.00" lengthAdjust="spacingAndGlyphs" >49.2</text>
<text class="fs" x="794.51" y="215.31" font-size="15.5" text-anchor="middle" textLength="30.00" lengthAdjust="spacingAndGlyphs" >49.2</text>
<text class="fs" x="817.09" y="204.59" font-size="11.2" text-anchor="middle" >0</text>
<text class="fs" x="817.51" y="205.01" font-size="11.2" text-anchor="middle" >0</text>
<text class="fs" x="823.29" y="214.89" font-size="11.2" text-anchor="middle" textLength="26.00" lengthAdjust="spacingAndGlyphs" >-0.12</text>
<text class="fs" x="823.71" y="215.31" font-size="11.2" text-anchor="middle" textLength="26.00" lengthAdjust="spacingAndGlyphs" >-0.12</text>
<line class="t" x1="750.30" y1="248.50" x2="798.90" y2="248.50"/>
<path class="af" d="M750.30,248.00 L761.50,246.00 L761.50,250.00 Z"/>
<path class="af" d="M798.90,248.00 L787.70,250.00 L787.70,246.00 Z"/>
<text class="fs" x="772.59" y="244.79" font-size="15.5" text-anchor="middle" >19</text>
<text class="fs" x="773.01" y="245.21" font-size="15.5" text-anchor="middle" >19</text>
<text class="fs" x="893.99" y="272.79" font-size="16" text-anchor="middle" textLength="41.00" lengthAdjust="spacingAndGlyphs" >SØ80</text>
<text class="fs" x="894.41" y="273.21" font-size="16" text-anchor="middle" textLength="41.00" lengthAdjust="spacingAndGlyphs" >SØ80</text>
<path class="t" d="M918,278.3 H856 L799,389" />
<path class="af" d="M832.20,321.00 L834.59,312.67 L837.61,314.23 Z"/>
<path d="M714.85,266.00 V279.80 M716.90,266.00 L721.75,279.80" fill="none" stroke="#111" stroke-width="1.7"/>
<path d="M721.75,279.80 L725.40,266.00 M713.20,266.40 H718.50 M723.80,266.40 H726.40 M713.20,279.40 H716.50" fill="none" stroke="#111" stroke-width="0.8"/>
<path class="t" d="M707.8,281.4 H730.7 L772,322" />
<text class="fs" x="869.10" y="360.80" font-size="13.5" text-anchor="start" textLength="30.80" lengthAdjust="spacingAndGlyphs" >screw:</text>
<text class="fs" x="869.50" y="361.20" font-size="13.5" text-anchor="start" textLength="30.80" lengthAdjust="spacingAndGlyphs" >screw:</text>
<text class="fs" x="900.70" y="360.80" font-size="10.6" text-anchor="start" textLength="59.30" lengthAdjust="spacingAndGlyphs" >2-5/16-24UNF</text>
<text class="fs" x="901.10" y="361.20" font-size="10.6" text-anchor="start" textLength="59.30" lengthAdjust="spacingAndGlyphs" >2-5/16-24UNF</text>
<path class="t" d="M848.2,340 L869.3,363 H958.4" />
<text class="fs" x="879.00" y="375.40" font-size="14" text-anchor="start" textLength="46.80" lengthAdjust="spacingAndGlyphs" >spacing</text>
<text class="fs" x="879.40" y="375.80" font-size="14" text-anchor="start" textLength="46.80" lengthAdjust="spacingAndGlyphs" >spacing</text>
<text class="fs" x="927.59" y="375.39" font-size="11" text-anchor="start" textLength="22.50" lengthAdjust="spacingAndGlyphs" >120°</text>
<text class="fs" x="928.01" y="375.81" font-size="11" text-anchor="start" textLength="22.50" lengthAdjust="spacingAndGlyphs" >120°</text>
<line class="t" x1="720.00" y1="346.50" x2="750.00" y2="346.50"/>
<line class="t" x1="723.50" y1="346.60" x2="723.50" y2="420.50"/>
<path class="af" d="M723.80,346.60 L725.80,357.80 L721.80,357.80 Z"/>
<g transform="rotate(-90.00 720.30 432.00)">
<text class="fs" x="720.09" y="431.79" font-size="16.6" text-anchor="start" textLength="45.00" lengthAdjust="spacingAndGlyphs" >Ø38.1</text>
<text class="fs" x="720.51" y="432.21" font-size="16.6" text-anchor="start" textLength="45.00" lengthAdjust="spacingAndGlyphs" >Ø38.1</text>
</g>
<g transform="rotate(-90.00 709.80 387.20)">
<text class="fs" x="709.59" y="386.99" font-size="11.3" text-anchor="start" textLength="34.50" lengthAdjust="spacingAndGlyphs" >+0.021</text>
<text class="fs" x="710.01" y="387.41" font-size="11.3" text-anchor="start" textLength="34.50" lengthAdjust="spacingAndGlyphs" >+0.021</text>
</g>
<g transform="rotate(-90.00 719.20 381.20)">
<text class="fs" x="718.99" y="380.99" font-size="11.3" text-anchor="start" >0</text>
<text class="fs" x="719.41" y="381.41" font-size="11.3" text-anchor="start" >0</text>
</g>
<line class="t" x1="734.50" y1="511.60" x2="734.50" y2="585.50"/>
<line class="t" x1="862.50" y1="511.60" x2="862.50" y2="585.50"/>
<line class="t" x1="734.40" y1="581.50" x2="862.40" y2="581.50"/>
<path class="af" d="M734.40,581.60 L745.60,579.60 L745.60,583.60 Z"/>
<path class="af" d="M862.40,581.60 L851.20,583.60 L851.20,579.60 Z"/>
<text class="fs" x="798.19" y="578.19" font-size="16.2" text-anchor="middle" >50</text>
<text class="fs" x="798.61" y="578.61" font-size="16.2" text-anchor="middle" >50</text>
</g>
</svg></body></html>
